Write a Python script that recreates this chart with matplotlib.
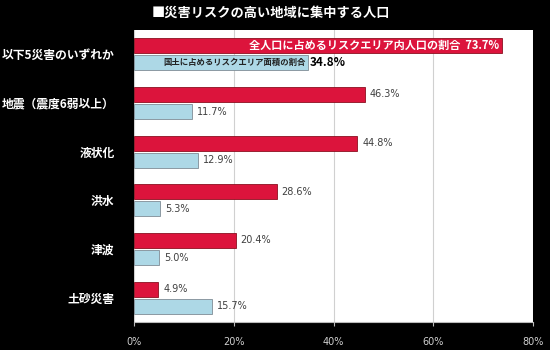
import matplotlib
matplotlib.use("Agg")
import matplotlib.pyplot as plt
import numpy as np

plt.rcParams['font.family'] = ['Noto Sans CJK JP', 'DejaVu Sans']

title = "■災害リスクの高い地域に集中する人口"
categories = ["以下5災害のいずれか", "地震（震度6弱以上）", "液状化", "洪水", "津波", "土砂災害"]
population_share = [73.7, 46.3, 44.8, 28.6, 20.4, 4.9]
area_share = [34.8, 11.7, 12.9, 5.3, 5.0, 15.7]
series_names = ["全人口に占めるリスクエリア内人口の割合", "国土に占めるリスクエリア面積の割合"]
xticks = [0, 20, 40, 60, 80]
xtick_labels = ["0%", "20%", "40%", "60%", "80%"]

red = "#DC143C"
blue = "#ADD8E6"
num_font = ['DejaVu Sans']

fig = plt.figure(figsize=(5.5, 3.5), dpi=100, facecolor="black")
ax = fig.add_axes([134/550, 1-322/350, (533-134)/550, (322-30)/350])
ax.set_facecolor("white")

y = np.arange(len(categories))
off = 0.175
h = 0.31
ax.barh(y - off, population_share, height=h, color=red, edgecolor="#8B1020", linewidth=0.6, zorder=3)
ax.barh(y + off, area_share, height=h, color=blue, edgecolor="#7F8C95", linewidth=0.6, zorder=3)

ax.set_xlim(0, 80)
ax.set_ylim(len(categories) - 0.5, -0.5)
ax.set_xticks(xticks)
ax.set_xticklabels(xtick_labels, color="#D0D0D0", fontsize=7, family=num_font)
ax.tick_params(axis="x", length=3, color="#BBBBBB", pad=8)
ax.set_yticks(y)
ax.set_yticklabels(categories, color="white", fontsize=8.5, fontweight="bold")
ax.tick_params(axis="y", length=0, pad=14)
ax.grid(axis="x", color="#D0D0D0", linewidth=0.8, zorder=0)
for s in ["top", "right", "left"]:
    ax.spines[s].set_visible(False)
ax.spines["bottom"].set_color("#BBBBBB")

for i in range(len(categories)):
    if i == 0:
        ax.text(population_share[i] - 0.4, y[i] - off, series_names[0] + "  %.1f%%" % population_share[i],
                ha="right", va="center", color="white", fontsize=8, fontweight="bold", zorder=4)
        ax.text(area_share[i] - 0.4, y[i] + off, series_names[1],
                ha="right", va="center", color="#222222", fontsize=6, fontweight="bold", zorder=4)
        ax.text(area_share[i] + 0.4, y[i] + off, "%.1f%%" % area_share[i],
                ha="left", va="center", color="black", fontsize=8.5, fontweight="bold", zorder=4)
    else:
        ax.text(population_share[i] + 1.0, y[i] - off, "%.1f%%" % population_share[i],
                ha="left", va="center", color="#404040", fontsize=7, family=num_font, zorder=4)
        ax.text(area_share[i] + 1.0, y[i] + off, "%.1f%%" % area_share[i],
                ha="left", va="center", color="#404040", fontsize=7, family=num_font, zorder=4)

fig.text(0.493, 1 - 13/350, title, ha="center", va="center", color="white", fontsize=9.5, fontweight="bold")

fig.savefig("out.png", dpi=100, facecolor="black")
